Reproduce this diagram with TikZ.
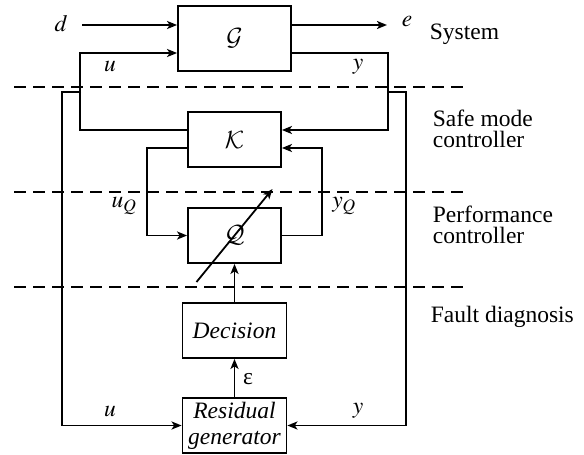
\documentclass[tikz,border=0pt]{standalone}
\usepackage{mathptmx}
\usepackage{fontspec}
\setmainfont{Liberation Serif}
\DeclareMathAlphabet{\mathcal}{OMS}{cmsy}{m}{n}
\usepackage{tikz}
\usetikzlibrary{positioning,calc,arrows.meta}

\begin{document}
\begin{tikzpicture}[x=1pt, y=-1pt, line width=1.8pt,
  font=\fontsize{23.5}{24}\selectfont,
  block/.style={draw, line width=1.8pt, minimum width=93pt, minimum height=55pt, inner sep=0pt},
  arr/.style={-{Stealth[length=10pt,width=8pt,inset=2.5pt]}},
  sep/.style={line width=1.8pt, dash pattern=on 12pt off 7pt},
  lab/.style={inner sep=0pt},
  tag/.style={anchor=west, align=left, inner sep=0pt, font=\fontsize{23.5}{21.5}\selectfont}]
  \useasboundingbox (0,0) rectangle (584,455);

  % Blocks
  \node[block, minimum width=113pt, minimum height=65pt] (G) at (234.5,38.5) {$\mathcal{G}$};
  \node[block] (K) at (234.5,139.5) {$\mathcal{K}$};
  \node[block] (Q) at (234.5,235.5) {$\mathcal{Q}$};
  \node[block, minimum width=104pt, font=\fontsize{23.5}{24}\selectfont\itshape] (dec) at (234.5,330.5) {Decision};
  \node[block, minimum width=104pt, align=center, font=\fontsize{23.5}{26}\selectfont\itshape] (res) at (234.5,425.5) {Residual\\generator};

  % Ports
  \coordinate (dG) at ([yshift=13.5pt]G.west);
  \coordinate (eG) at ([yshift=13.5pt]G.east);
  \coordinate (uG) at ([yshift=-14.5pt]G.west);
  \coordinate (yG) at ([yshift=-14.5pt]G.east);
  \coordinate (uK) at ([yshift=9.5pt]K.west);
  \coordinate (yK) at ([yshift=9.5pt]K.east);
  \coordinate (uQK) at ([yshift=-8.5pt]K.west);
  \coordinate (yQK) at ([yshift=-8.5pt]K.east);
  \coordinate (din) at (82,25);
  \coordinate (eout) at (387,25);
  \coordinate (uT) at (81,92);
  \coordinate (yT) at (387,92);

  % Separators
  \draw[sep] (14,87) -- (465,87);
  \draw[sep] (14,192) -- (465,192);
  \draw[sep] (14,287) -- (465,287);

  % Signals
  \draw[arr] (din) -- (dG);
  \draw[arr] (eG) -- (eout);
  \draw[arr] (uK) -- ++(-107,0) |- (uG);
  \draw[arr] (yG) -- ++(96,0) |- (yK);
  \draw[arr] (uQK) -- ++(-40,0) |- (Q.west);
  \draw[arr] (Q.east) -- ++(40,0) |- (yQK);
  \draw[arr] (uT) -- ++(-19,0) |- (res.west);
  \draw[arr] (yT) -- ++(19,0) |- (res.east);
  \draw[arr] (res) -- (dec);
  \draw[arr] (dec) -- (Q);
  \draw[arr] ($(Q)+(-38,46.5)$) -- ($(Q)+(38,-46.5)$);

  % Labels
  \node[lab] (d) at (61,24) {$d$};
  \node[lab] (e) at (407,22) {$e$};
  \node[lab] (u1) at (110,67) {$u$};
  \node[lab] (y1) at (358,67) {$y$};
  \node[lab] (uq) at (124,206) {$u_{Q}$};
  \node[lab] (yq) at (344,206) {$y_{Q}$};
  \node[lab] (eps) at (248,379) {ε};
  \node[lab] (u2) at (110,412) {$u$};
  \node[lab] (y2) at (358,411) {$y$};

  % Layers
  \node[tag] (sys) at (429,34) {System};
  \node[tag] (safe) at (432,129) {Safe mode\\controller};
  \node[tag] (perf) at (432,225) {Performance\\controller};
  \node[tag] (fault) at (430,317) {Fault diagnosis};
\end{tikzpicture}
\end{document}
